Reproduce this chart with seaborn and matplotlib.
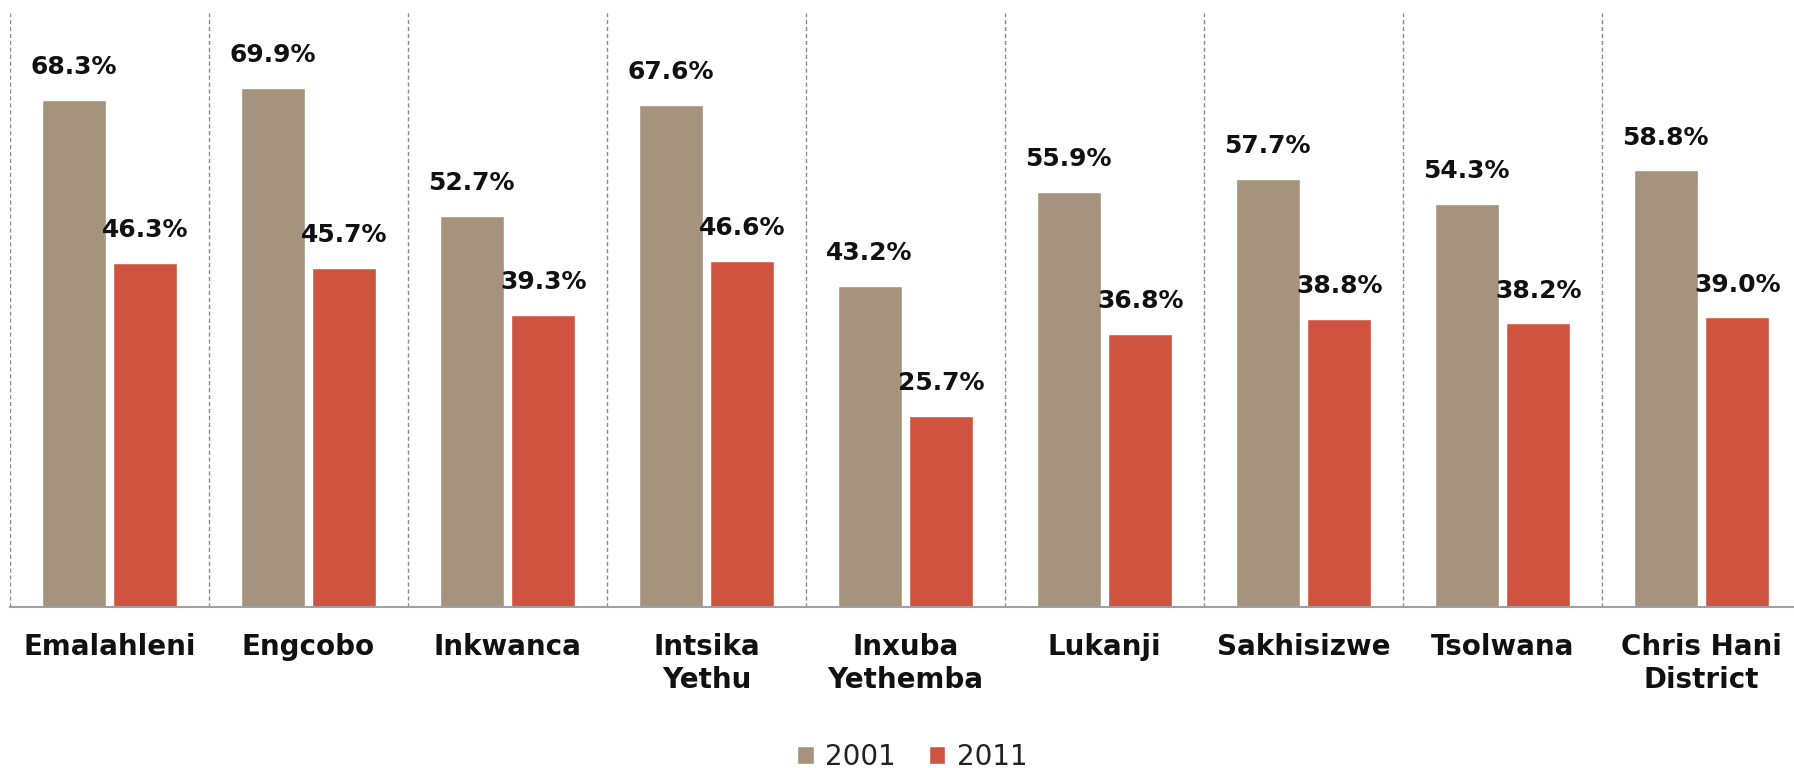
import numpy as np
import pandas as pd
import matplotlib
matplotlib.use("Agg")
import matplotlib.pyplot as plt
import seaborn as sns

districts = ["Emalahleni", "Engcobo", "Inkwanca", "Intsika\nYethu", "Inxuba\nYethemba",
             "Lukanji", "Sakhisizwe", "Tsolwana", "Chris Hani\nDistrict"]
share_2001 = [68.3, 69.9, 52.7, 67.6, 43.2, 55.9, 57.7, 54.3, 58.8]
share_2011 = [46.3, 45.7, 39.3, 46.6, 25.7, 36.8, 38.8, 38.2, 39.0]
years = ["2001", "2011"]
colors = ["#A5937D", "#CF5440"]

df = pd.DataFrame({
    "district": districts * 2,
    "year": ["2001"] * len(districts) + ["2011"] * len(districts),
    "value": share_2001 + share_2011,
})

sns.set_style("white")
plt.rcParams["font.family"] = ["DejaVu Sans"]

fig = plt.figure(figsize=(17.94, 7.68), dpi=100)
ax = fig.add_axes([10 / 1794, 161 / 768, 1791 / 1794, 594 / 768])

sns.barplot(data=df, x="district", y="value", hue="year", hue_order=years,
            palette=colors, width=0.72, gap=0.11, saturation=1, ax=ax,
            legend=True)

for cont in ax.containers:
    ax.bar_label(cont, fmt="%.1f%%", padding=15, fontsize=18, fontweight="bold",
                 color="#111111")

ax.set_ylim(0, 80)
ax.set_xlim(-0.5, len(districts) - 0.5)
for b in np.arange(-0.5, len(districts), 1.0):
    ax.axvline(b, color="#8a8a8a", lw=1, ls=(0, (3, 2)), zorder=0)

ax.set_yticks([])
ax.set_xlabel("")
ax.set_ylabel("")
for s in ["top", "right", "left"]:
    ax.spines[s].set_visible(False)
ax.spines["bottom"].set_color("#a0a0a0")
ax.spines["bottom"].set_linewidth(1.5)
ax.tick_params(axis="x", length=0, pad=19, labelsize=20)
for t in ax.get_xticklabels():
    t.set_fontweight("bold")
    t.set_color("#111111")

handles, labels = ax.get_legend_handles_labels()
ax.legend_.remove()
fig.legend(handles, labels, loc="center", bbox_to_anchor=(912 / 1794, 1 - 757 / 768),
           ncol=2, frameon=False, fontsize=20, handlelength=0.6, handleheight=0.6,
           handletextpad=0.4, columnspacing=1.2, labelcolor="#222222")

fig.savefig("out.png", dpi=100)
